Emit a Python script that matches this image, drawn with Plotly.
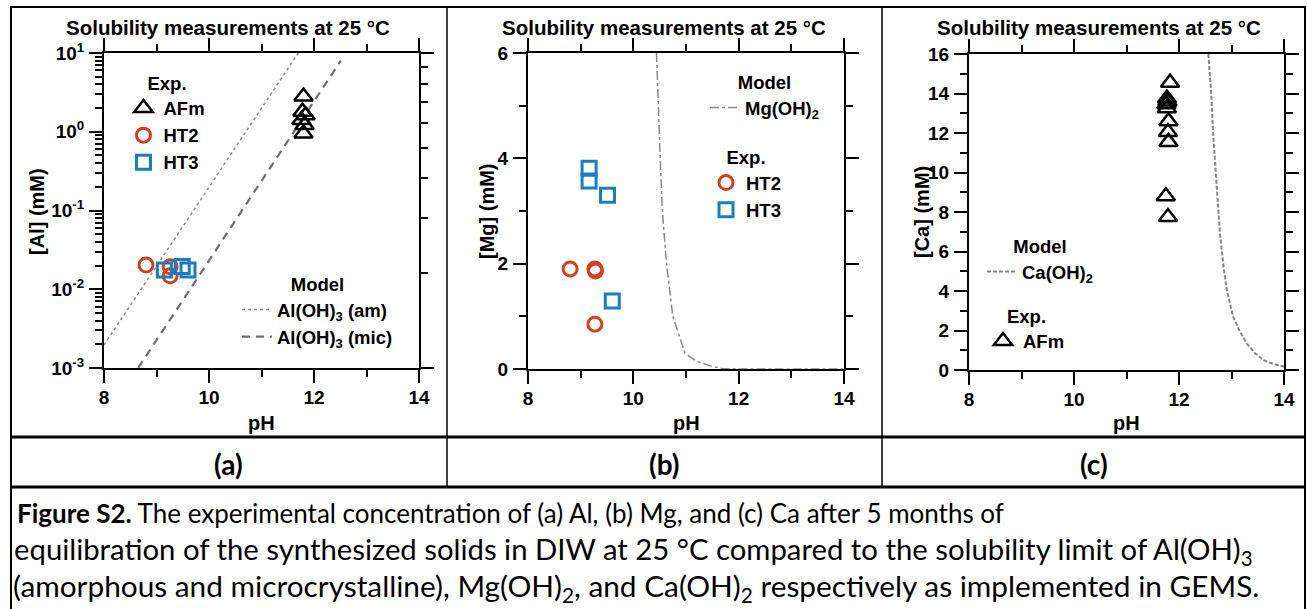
import plotly.graph_objects as go

W, H = 1307, 609

# ---------------- data ----------------
# (a) Al
afm_ph_a = [11.80, 11.78, 11.84, 11.76, 11.82, 11.80]
afm_al = [2.8, 1.8, 1.62, 1.41, 1.22, 0.95]
ht2_ph_a = [8.80, 9.26, 9.26]
ht2_al = [0.0203, 0.0193, 0.0148]
ht3_ph_a = [9.15, 9.49, 9.60]
ht3_al = [0.0175, 0.0195, 0.0175]
am_ph = [8.0, 11.70]
am_al = [0.00196, 10.0]
mic_ph = [8.65, 12.51]
mic_al = [0.001, 7.98]

# (b) Mg
ht2_ph_b = [8.80, 9.27, 9.28, 9.27]
ht2_mg = [1.90, 1.90, 1.86, 0.85]
ht3_ph_b = [9.16, 9.16, 9.51, 9.60]
ht3_mg = [3.81, 3.57, 3.30, 1.29]
mgoh_ph = [10.44, 10.47, 10.51, 10.55, 10.63, 10.75, 10.98, 11.2, 11.49, 11.68, 12.0, 13.0, 14.0]
mgoh_mg = [6.0, 5.0, 4.0, 3.0, 2.0, 1.0, 0.3, 0.15, 0.05, 0.01, 0.0, 0.0, 0.0]

# (c) Ca
afm_ph_c = [11.83, 11.77, 11.78, 11.76, 11.77, 11.80, 11.79, 11.80, 11.75, 11.79]
afm_ca = [14.55, 13.75, 13.6, 13.45, 13.25, 12.6, 12.05, 11.55, 8.8, 7.75]
caoh_ph = [12.56, 12.62, 12.65, 12.72, 12.78, 12.85, 12.91, 13.03, 13.15, 13.29, 13.45, 13.61, 13.8, 14.0]
caoh_ca = [16.0, 13.7, 12.0, 9.45, 6.9, 5.2, 4.05, 2.7, 2.0, 1.35, 0.85, 0.5, 0.3, 0.17]

x_ticks = [8, 10, 12, 14]
x_minor = [9, 11, 13]
al_ticks = [0.001, 0.01, 0.1, 1, 10]
al_labels = ["10<sup>-3</sup>", "10<sup>-2</sup>", "10<sup>-1</sup>", "10<sup>0</sup>", "10<sup>1</sup>"]
al_minor = [m * d for d in [0.001, 0.01, 0.1, 1] for m in range(2, 10)]
right_a_minor = [2, 3, 4, 5, 6, 7, 8, 9]

# ---------------- style ----------------
FONT = "Liberation Sans, Arial, sans-serif"
CAP = "Lato, Open Sans, sans-serif"
BLACK = "#000000"
RED = "#D2401C"
BLUE = "#1A7DC4"


def px(x):
    return x / W


def py(y):
    return 1 - y / H


tri = dict(symbol="triangle-up-open", size=16, color=BLACK, line=dict(width=2.5, color=BLACK))
circ = dict(symbol="circle-open", size=14, color=RED, line=dict(width=3, color=RED))
sq = dict(symbol="square-open", size=14, color=BLUE, line=dict(width=3, color=BLUE))

fig = go.Figure()

# panel a
fig.add_trace(go.Scatter(x=am_ph, y=am_al, mode="lines", name="Al(OH)<sub>3</sub> (am)",
                         line=dict(color="#8a8a8a", width=1.5, dash="dot"), xaxis="x", yaxis="y", legend="legend2"))
fig.add_trace(go.Scatter(x=mic_ph, y=mic_al, mode="lines", name="Al(OH)<sub>3</sub> (mic)",
                         line=dict(color="#6e6e6e", width=2.2, dash="8px,6px"), xaxis="x", yaxis="y", legend="legend2"))
fig.add_trace(go.Scatter(x=afm_ph_a, y=afm_al, mode="markers", name="AFm", marker=tri,
                         xaxis="x", yaxis="y", legend="legend"))
fig.add_trace(go.Scatter(x=ht2_ph_a, y=ht2_al, mode="markers", name="HT2", marker=circ,
                         xaxis="x", yaxis="y", legend="legend"))
fig.add_trace(go.Scatter(x=ht3_ph_a, y=ht3_al, mode="markers", name="HT3", marker=sq,
                         xaxis="x", yaxis="y", legend="legend"))
fig.add_trace(go.Scatter(x=[], y=[], mode="markers", showlegend=False, xaxis="x", yaxis="y4"))

# panel b
fig.add_trace(go.Scatter(x=mgoh_ph, y=mgoh_mg, mode="lines", name="Mg(OH)<sub>2</sub>",
                         line=dict(color="#8a8a8a", width=1.5, dash="dashdot"), xaxis="x2", yaxis="y2", legend="legend3"))
fig.add_trace(go.Scatter(x=ht2_ph_b, y=ht2_mg, mode="markers", name="HT2", marker=circ,
                         xaxis="x2", yaxis="y2", legend="legend4"))
fig.add_trace(go.Scatter(x=ht3_ph_b, y=ht3_mg, mode="markers", name="HT3", marker=sq,
                         xaxis="x2", yaxis="y2", legend="legend4"))

# panel c
fig.add_trace(go.Scatter(x=caoh_ph, y=caoh_ca, mode="lines", name="Ca(OH)<sub>2</sub>",
                         line=dict(color="#858585", width=2, dash="4px,2px"), xaxis="x3", yaxis="y3", legend="legend5"))
fig.add_trace(go.Scatter(x=afm_ph_c, y=afm_ca, mode="markers", name="AFm", marker=tri,
                         xaxis="x3", yaxis="y3", legend="legend6"))

tickfont = dict(family=FONT, size=19, color=BLACK, weight="bold")


def xax(domain, anchor):
    return dict(domain=domain, anchor=anchor, range=[8, 14], tickmode="array", tickvals=x_ticks,
                ticks="outside", ticklen=13, tickwidth=2, tickcolor=BLACK, showline=True, linewidth=2,
                linecolor=BLACK, mirror="ticks", showgrid=False, zeroline=False, tickfont=tickfont,
                ticklabelstandoff=-2,
                minor=dict(tickmode="array", tickvals=x_minor, ticks="outside", ticklen=7, tickwidth=2,
                           tickcolor=BLACK, showgrid=False))


def yax(domain, anchor, rng, tv, mv, mirror="ticks", **kw):
    d = dict(domain=domain, anchor=anchor, range=rng, tickmode="array", tickvals=tv,
             ticks="outside", ticklen=13, tickwidth=2, tickcolor=BLACK, showline=True, linewidth=2,
             linecolor=BLACK, mirror=mirror, showgrid=False, zeroline=False, tickfont=tickfont,
             ticklabelstandoff=1,
             minor=dict(tickmode="array", tickvals=mv, ticks="outside", ticklen=7, tickwidth=2,
                        tickcolor=BLACK, showgrid=False))
    d.update(kw)
    return d


dom_a = [px(104), px(419)]
dom_b = [px(528), px(844)]
dom_c = [px(969), px(1284)]
ydom_a = [py(368), py(53)]
ydom_b = [py(369), py(53)]
ydom_c = [py(370), py(54)]

legfont = dict(family=FONT, size=18.5, color=BLACK, weight="bold")


def leg(x, y):
    return dict(x=px(x), y=py(y), xanchor="left", yanchor="top", bgcolor="rgba(0,0,0,0)",
                font=legfont, traceorder="normal", itemwidth=30,
                title=dict(font=legfont, side="top center"))


fig.update_layout(
    width=W, height=H, margin=dict(l=0, r=0, t=0, b=0, autoexpand=False),
    paper_bgcolor="white", plot_bgcolor="white",
    font=dict(family=FONT, color=BLACK),
    xaxis=xax(dom_a, "y"),
    yaxis=yax(ydom_a, "x", [-3, 1], al_ticks, al_minor, mirror=False, type="log", ticktext=al_labels),
    yaxis4=dict(overlaying="y", side="right", anchor="x", type="log", range=[0, 1], tickmode="array",
                tickvals=[1, 10], ticks="outside", ticklen=13, tickwidth=2, tickcolor=BLACK,
                showline=True, linewidth=2, linecolor=BLACK, showticklabels=False, showgrid=False,
                zeroline=False,
                minor=dict(tickmode="array", tickvals=right_a_minor, ticks="outside", ticklen=7,
                           tickwidth=2, tickcolor=BLACK, showgrid=False)),
    xaxis2=xax(dom_b, "y2"),
    yaxis2=yax(ydom_b, "x2", [0, 6], [0, 2, 4, 6], [1, 3, 5]),
    xaxis3=xax(dom_c, "y3"),
    yaxis3=yax(ydom_c, "x3", [0, 16], list(range(0, 17, 2)), list(range(1, 16, 2))),
    legend=dict(leg(123.5, 65.5), title_text="Exp."),
    legend2=dict(leg(237, 267), title_text="Model"),
    legend3=dict(leg(705, 65), title_text="Model"),
    legend4=dict(leg(706, 140), title_text="Exp."),
    legend5=dict(leg(982, 229), title_text="Model"),
    legend6=dict(leg(983, 298.5), title_text="Exp."),
)

ann = []
title_font = dict(family=FONT, size=20.5, color=BLACK, weight="bold")
axt_font = dict(family=FONT, size=20, color=BLACK, weight="bold")
for cx in [228, 664, 1099]:
    ann.append(dict(text="Solubility measurements at 25 °C", x=px(cx), y=py(27), xref="paper", yref="paper",
                    showarrow=False, font=title_font, xanchor="center", yanchor="middle"))
for cx in [261, 686, 1126]:
    ann.append(dict(text="pH", x=px(cx), y=py(423), xref="paper", yref="paper",
                    showarrow=False, font=axt_font, xanchor="center", yanchor="middle"))
for cx, cy, t in [(37, 212, "[Al] (mM)"), (487, 211, "[Mg] (mM)"), (922, 212, "[Ca] (mM)")]:
    ann.append(dict(text=t, x=px(cx), y=py(cy), xref="paper", yref="paper", textangle=-90,
                    showarrow=False, font=axt_font, xanchor="center", yanchor="middle"))
for cx, t in [(228, "(a)"), (664, "(b)"), (1094, "(c)")]:
    ann.append(dict(text=t, x=px(cx), y=py(464), xref="paper", yref="paper",
                    showarrow=False, font=dict(family=CAP, size=28, color=BLACK, weight="bold"),
                    xanchor="center", yanchor="middle"))
cap_lines = [
    "<b>Figure S2.</b> The experimental concentration of (a) Al, (b) Mg, and (c) Ca after 5 months of",
    "equilibration of the synthesized solids in DIW at 25 °C compared to the solubility limit of Al(OH)<sub>3</sub>",
    "(amorphous and microcrystalline), Mg(OH)<sub>2</sub>, and Ca(OH)<sub>2</sub> respectively as implemented in GEMS.",
]
cap_x = [15, 12, 11]
cap_y = [513, 550, 587]
cap_size = [26, 29.3, 29.8]
for t, cx, cy, cs in zip(cap_lines, cap_x, cap_y, cap_size):
    ann.append(dict(text=t, x=px(cx), y=py(cy), xref="paper", yref="paper", showarrow=False,
                    font=dict(family=CAP, size=cs, color=BLACK), xanchor="left", yanchor="middle"))
fig.update_layout(annotations=ann)

shapes = []
lw = dict(color=BLACK, width=2)
shapes.append(dict(type="line", xref="paper", yref="paper", x0=px(11), x1=px(1306), y0=py(7), y1=py(7), line=lw))
shapes.append(dict(type="line", xref="paper", yref="paper", x0=px(11), x1=px(11), y0=py(6), y1=py(609), line=lw))
shapes.append(dict(type="line", xref="paper", yref="paper", x0=px(1305), x1=px(1305), y0=py(6), y1=py(609), line=lw))
for xv in [447, 882]:
    shapes.append(dict(type="line", xref="paper", yref="paper", x0=px(xv), x1=px(xv), y0=py(7), y1=py(487),
                       line=dict(color=BLACK, width=1.5)))
for yv in [437, 487]:
    shapes.append(dict(type="line", xref="paper", yref="paper", x0=px(11), x1=px(1306), y0=py(yv), y1=py(yv),
                       line=dict(color=BLACK, width=3)))
fig.update_layout(shapes=shapes)

fig.write_html("out.html",
               config={"displayModeBar": False},
               post_script="document.documentElement.style.margin='0';"
                           "document.body.style.margin='0';document.body.style.padding='0';"
                           "document.body.style.overflow='hidden';")
